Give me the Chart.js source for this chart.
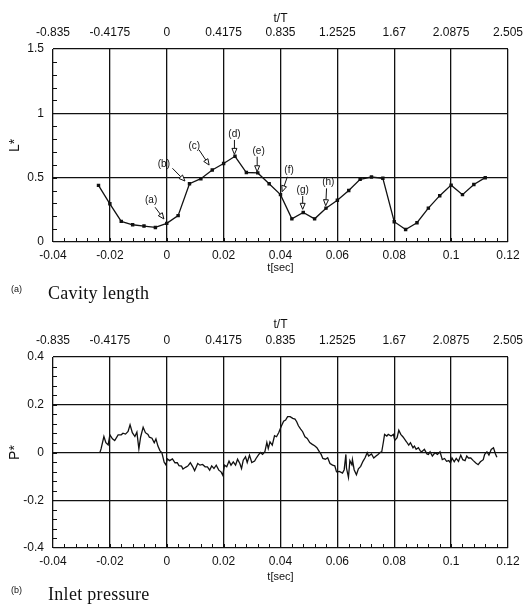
<!DOCTYPE html>
<html>
<head>
<meta charset="utf-8">
<script src="https://cdn.jsdelivr.net/npm/chart.js@4.4.1/dist/chart.umd.min.js"></script>
<style>
  body { margin: 0; background: #fff; }
  #wrap { position: relative; width: 532px; height: 605px; }
  canvas { position: absolute; left: 0; }
  .tag { position: absolute; font: 9px 'Liberation Sans', sans-serif; color: #111; }
  .cap { position: absolute; font: 18px 'Liberation Serif', serif; color: #111; letter-spacing: 0.3px; }
</style>
</head>
<body>
<div id="wrap">
  <canvas id="cavity" width="532" height="300" style="top:0"></canvas>
  <canvas id="pressure" width="532" height="305" style="top:300px"></canvas>
  <div class="tag" style="left:11px;top:284px">(a)</div>
  <div class="cap" style="left:48px;top:283px">Cavity length</div>
  <div class="tag" style="left:11px;top:585px">(b)</div>
  <div class="cap" style="left:48px;top:584px">Inlet pressure</div>
</div>
<script>
// shared axis ticks
var timeTicks = [-0.04, -0.02, 0, 0.02, 0.04, 0.06, 0.08, 0.1, 0.12];
var timeLabels = ['-0.04', '-0.02', '0', '0.02', '0.04', '0.06', '0.08', '0.1', '0.12'];
var periodLabels = ['-0.835', '-0.4175', '0', '0.4175', '0.835', '1.2525', '1.67', '2.0875', '2.505'];

// (a) cavity length
var lenTicks = [0, 0.5, 1, 1.5];
var lenLabels = ['0', '0.5', '1', '1.5'];
var lenT = [-0.024, -0.020, -0.016, -0.012, -0.008, -0.004, 0, 0.004, 0.008, 0.012, 0.016, 0.020,
    0.024, 0.028, 0.032, 0.036, 0.040, 0.044, 0.048, 0.052, 0.056, 0.060, 0.064, 0.068,
    0.072, 0.076, 0.080, 0.084, 0.088, 0.092, 0.096, 0.100, 0.104, 0.108, 0.112];
var lenL = [0.44, 0.297, 0.16, 0.134, 0.124, 0.113, 0.145, 0.205, 0.453, 0.492, 0.56, 0.61,
    0.666, 0.54, 0.537, 0.453, 0.368, 0.18, 0.229, 0.18, 0.263, 0.324, 0.40, 0.487,
    0.505, 0.495, 0.158, 0.097, 0.15, 0.263, 0.36, 0.442, 0.368, 0.447, 0.5];

// arrow marks on (a): label spot, arrow tail and tip, in data units
var markText = ['(a)', '(b)', '(c)', '(d)', '(e)', '(f)', '(g)', '(h)'];
var markLabelT = [-0.0055, -0.001, 0.0097, 0.0238, 0.0323, 0.043, 0.0478, 0.0568];
var markLabelL = [0.326, 0.604, 0.748, 0.839, 0.702, 0.559, 0.399, 0.461];
var markTailT = [-0.0041, 0.002, 0.0114, 0.0238, 0.0318, 0.0424, 0.0478, 0.0562];
var markTailL = [0.27, 0.573, 0.715, 0.793, 0.663, 0.507, 0.357, 0.417];
var markTipT = [-0.001, 0.0064, 0.0149, 0.0238, 0.0318, 0.0406, 0.0478, 0.0559];
var markTipL = [0.179, 0.474, 0.598, 0.681, 0.546, 0.391, 0.254, 0.282];

// (b) inlet pressure
var presTicks = [-0.4, -0.2, 0, 0.2, 0.4];
var presLabels = ['-0.4', '-0.2', '0', '0.2', '0.4'];
var presT = [-0.0235, -0.0231, -0.0221, -0.0214, -0.0206, -0.0200, -0.0191, -0.0183, -0.0171, -0.0160, -0.0154,
    -0.0145, -0.0136, -0.0129, -0.0121, -0.0112, -0.0105, -0.0098, -0.0092, -0.0083, -0.0075, -0.0066,
    -0.0061, -0.0052, -0.0044, -0.0038, -0.0031, -0.0024, -0.0017, -0.0009, -0.0003, 0.0002, 0.0010,
    0.0020, 0.0029, 0.0037, 0.0043, 0.0052, 0.0057, 0.0066, 0.0074, 0.0083, 0.0091, 0.0098,
    0.0109, 0.0117, 0.0126, 0.0135, 0.0143, 0.0151, 0.0158, 0.0166, 0.0174, 0.0183, 0.0191, 0.0197,
    0.0203, 0.0211, 0.0219, 0.0226, 0.0234, 0.0242, 0.0249, 0.0257, 0.0263, 0.0269, 0.0277, 0.0283,
    0.0291, 0.0299, 0.0309, 0.0314, 0.0322, 0.0329, 0.0337, 0.0345, 0.0352, 0.0357, 0.0363, 0.0371,
    0.0379, 0.0386, 0.0394, 0.0402, 0.0411, 0.0418, 0.0425, 0.0434, 0.0443, 0.0451, 0.0457, 0.0463,
    0.0471, 0.0478, 0.0486, 0.0494, 0.0503, 0.0512, 0.0520, 0.0528, 0.0537, 0.0543, 0.0549, 0.0558,
    0.0566, 0.0574, 0.0583, 0.0591, 0.0597,
    0.0607, 0.0618, 0.0624, 0.0630, 0.0632, 0.0639, 0.0644, 0.0651, 0.0653, 0.0659, 0.0667, 0.0674,
    0.0682, 0.0690, 0.0697, 0.0705, 0.0710, 0.0720, 0.0728, 0.0736, 0.0743, 0.0751, 0.0756, 0.0762,
    0.0766, 0.0774, 0.0779, 0.0789, 0.0797, 0.0802, 0.0810, 0.0816, 0.0823, 0.0831, 0.0837, 0.0843,
    0.0851, 0.0857, 0.0866, 0.0871, 0.0877, 0.0885, 0.0892, 0.0897, 0.0906, 0.0915, 0.0920, 0.0926,
    0.0934, 0.0943, 0.0952, 0.0961, 0.0969, 0.0977, 0.0984, 0.0992, 0.0998, 0.1003, 0.1011, 0.1018,
    0.1026, 0.1034, 0.1041, 0.1049, 0.1055, 0.1061, 0.1069, 0.1078, 0.1087, 0.1095, 0.1103, 0.1113,
    0.1118, 0.1126, 0.1133, 0.1141, 0.1149, 0.1156, 0.1161];
var presP = [0, 0.015, 0.067, 0.041, 0.032, 0.074, 0.057, 0.050, 0.074, 0.074, 0.081,
    0.077, 0.088, 0.116, 0.083, 0.067, 0.085, 0.015, 0.064, 0.106, 0.083, 0.076,
    0.064, 0.060, 0.041, 0.057, 0.027, 0.008, -0.001, -0.041, -0.052, -0.027, -0.034,
    -0.027, -0.043, -0.043, -0.055, -0.057, -0.069, -0.062, -0.057, -0.043, -0.059, -0.076,
    -0.046, -0.053, -0.050, -0.060, -0.060, -0.074, -0.056, -0.067, -0.053, -0.074, -0.081, -0.095,
    -0.053, -0.060, -0.036, -0.053, -0.039, -0.053, -0.028, -0.046, -0.067, -0.032, -0.018, -0.042,
    -0.011, -0.042, -0.036, -0.025, -0.011, 0.000, -0.008, 0.003, 0.042, 0.017, 0.045, 0.031,
    0.070, 0.066, 0.084, 0.108, 0.131, 0.136, 0.150, 0.150, 0.143, 0.140, 0.129, 0.112,
    0.098, 0.087, 0.066, 0.059, 0.042, 0.034, 0.028, 0.020, 0.003, -0.008, -0.025, -0.028,
    -0.022, -0.046, -0.053, -0.056, -0.081,
    -0.079, -0.086, -0.072, -0.008, -0.065, -0.104, -0.034, -0.051, -0.030, -0.072, -0.093, -0.068,
    -0.058, -0.037, -0.023, -0.001, -0.015, -0.006, -0.023, -0.015, -0.008, 0.001, 0.003, 0.045,
    0.076, 0.069, 0.076, 0.069, 0.076, 0.051, 0.062, 0.093, 0.076, 0.065, 0.055, 0.045,
    0.031, 0.041, 0.020, 0.027, 0.013, 0.020, 0.006, 0.003, 0.013, -0.006, -0.008, 0.003,
    -0.015, -0.001, -0.008, 0.003, -0.030, -0.025, -0.037, -0.034, -0.044, -0.023, -0.039, -0.025,
    -0.037, -0.011, -0.030, -0.034, -0.015, -0.023, -0.023, -0.034, -0.044, -0.051, -0.039, -0.030,
    -0.008, 0.003, -0.011, 0.013, 0.020, -0.006, -0.020];

var INK = '#111';
var SANS = "'Liberation Sans', Arial, sans-serif";

function pairs(xs, ys) {
    return xs.map(function(x, i) { return {x: x, y: ys[i]}; });
}

// the scanned figure has loosely spaced digits
var spacing = {
    id: 'spacing',
    beforeInit: function(chart) {
        chart.ctx.letterSpacing = '0.5px';
    }
};

// short inward ticks on left and bottom edges
var minorTicks = {
    id: 'minorTicks',
    afterDraw: function(chart, args, opts) {
        var ctx = chart.ctx, a = chart.chartArea;
        var xs = chart.scales.x, ys = chart.scales.y;
        ctx.save();
        ctx.strokeStyle = INK;
        ctx.lineWidth = 1;
        ctx.beginPath();
        var n = Math.round((xs.max - xs.min) / opts.xStep);
        for (var i = 1; i < n; i++) {
            var px = Math.round(xs.getPixelForValue(xs.min + i * opts.xStep)) + 0.5;
            ctx.moveTo(px, a.bottom);
            ctx.lineTo(px, a.bottom - 4);
        }
        n = Math.round((ys.max - ys.min) / opts.yStep);
        for (var j = 1; j < n; j++) {
            var py = Math.round(ys.getPixelForValue(ys.min + j * opts.yStep)) + 0.5;
            ctx.moveTo(a.left, py);
            ctx.lineTo(a.left + 4, py);
        }
        ctx.stroke();
        ctx.restore();
    }
};

// labelled arrows (a)..(h)
var arrowMarks = {
    id: 'arrowMarks',
    afterDatasetsDraw: function(chart) {
        var ctx = chart.ctx, xs = chart.scales.x, ys = chart.scales.y;
        ctx.save();
        ctx.strokeStyle = INK;
        ctx.fillStyle = INK;
        ctx.lineWidth = 1;
        ctx.font = '10px ' + SANS;
        ctx.textAlign = 'center';
        ctx.textBaseline = 'middle';
        for (var i = 0; i < markText.length; i++) {
            var x0 = xs.getPixelForValue(markTailT[i]), y0 = ys.getPixelForValue(markTailL[i]);
            var x1 = xs.getPixelForValue(markTipT[i]), y1 = ys.getPixelForValue(markTipL[i]);
            var ang = Math.atan2(y1 - y0, x1 - x0);
            var bx = x1 - 6 * Math.cos(ang), by = y1 - 6 * Math.sin(ang);
            ctx.beginPath();
            ctx.moveTo(x0, y0);
            ctx.lineTo(bx, by);
            ctx.stroke();
            ctx.beginPath();
            ctx.moveTo(x1, y1);
            ctx.lineTo(bx + 2.5 * Math.sin(ang), by - 2.5 * Math.cos(ang));
            ctx.lineTo(bx - 2.5 * Math.sin(ang), by + 2.5 * Math.cos(ang));
            ctx.closePath();
            ctx.fillStyle = '#fff';
            ctx.fill();
            ctx.stroke();
            ctx.fillStyle = INK;
            ctx.fillText(markText[i], xs.getPixelForValue(markLabelT[i]), ys.getPixelForValue(markLabelL[i]));
        }
        ctx.restore();
    }
};

function fixed(size) {
    return function(scale) {
        if (scale.isHorizontal()) scale.height = size;
        else scale.width = size;
    };
}

function setTicks(vals) {
    return function(scale) {
        scale.ticks = vals.map(function(v) { return {value: v}; });
    };
}

function makeChart(id, cfg) {
    var tickFont = {family: SANS, size: 12};
    return new Chart(document.getElementById(id), {
        type: 'line',
        data: {
            datasets: [{
                data: cfg.data,
                borderColor: INK,
                borderWidth: cfg.lineWidth,
                backgroundColor: INK,
                pointStyle: 'rect',
                pointRadius: cfg.pointRadius,
                pointHoverRadius: cfg.pointRadius,
                tension: 0
            }]
        },
        options: {
            responsive: false,
            animation: false,
            events: [],
            layout: {padding: {left: 0, right: 16, top: 0, bottom: 0}},
            plugins: {
                legend: {display: false},
                tooltip: {enabled: false},
                minorTicks: {xStep: 0.004, yStep: cfg.yMinor}
            },
            scales: {
                x: {
                    type: 'linear', position: 'bottom', min: -0.04, max: 0.12,
                    afterBuildTicks: setTicks(timeTicks),
                    afterFit: fixed(cfg.bottomH),
                    ticks: {
                        autoSkip: false, maxRotation: 0, padding: 6, color: INK, font: tickFont,
                        callback: function(v, i) { return timeLabels[i]; }
                    },
                    grid: {color: INK, lineWidth: 1.3, drawTicks: false},
                    border: {display: false},
                    title: {display: true, text: 't[sec]', color: INK, font: {family: SANS, size: 11},
                        padding: {top: 0, bottom: cfg.secPad}}
                },
                x2: {
                    type: 'linear', position: 'top', min: -0.04, max: 0.12,
                    afterBuildTicks: setTicks(timeTicks),
                    afterFit: fixed(cfg.topH),
                    ticks: {
                        autoSkip: false, maxRotation: 0, padding: 9, color: INK, font: tickFont,
                        callback: function(v, i) { return periodLabels[i]; }
                    },
                    grid: {display: false, drawTicks: false},
                    border: {display: false},
                    title: {display: true, text: 't/T', color: INK, font: {family: SANS, size: 12},
                        padding: {top: cfg.ttPad, bottom: 0}}
                },
                y: {
                    type: 'linear', min: cfg.yTicks[0], max: cfg.yTicks[cfg.yTicks.length - 1],
                    afterBuildTicks: setTicks(cfg.yTicks),
                    afterFit: fixed(53),
                    ticks: {
                        padding: 9, color: INK, font: tickFont,
                        callback: function(v, i) { return cfg.yLabels[i]; }
                    },
                    grid: {color: INK, lineWidth: 1.3, drawTicks: false},
                    border: {display: false},
                    title: {display: true, text: cfg.yTitle, color: INK, font: {family: SANS, size: 14},
                        padding: {top: 7, bottom: 0}}
                }
            }
        },
        plugins: cfg.plugins
    });
}

makeChart('cavity', {
    data: pairs(lenT, lenL),
    lineWidth: 1.3,
    pointRadius: 1.5,
    yTicks: lenTicks,
    yLabels: lenLabels,
    yMinor: 0.1,
    yTitle: 'L*',
    topH: 49,
    bottomH: 58,
    ttPad: 11,
    secPad: 25,
    plugins: [spacing, minorTicks, arrowMarks]
});

makeChart('pressure', {
    data: pairs(presT, presP),
    lineWidth: 1.3,
    pointRadius: 0,
    yTicks: presTicks,
    yLabels: presLabels,
    yMinor: 0.04,
    yTitle: 'P*',
    topH: 57,
    bottomH: 57,
    ttPad: 17,
    secPad: 21,
    plugins: [spacing, minorTicks]
});
</script>
</body>
</html>
